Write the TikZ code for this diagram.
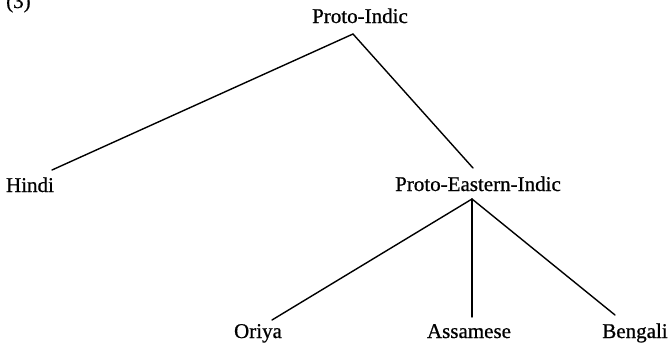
\documentclass[tikz,border=0pt]{standalone}
\usepackage{fontspec}
\setmainfont[FakeBold=0.7]{Liberation Serif}
\begin{document}
\begin{tikzpicture}[x=1bp,y=-1bp,
  lbl/.style={inner sep=0pt,anchor=base,font=\fontsize{21bp}{25bp}\selectfont},
  edge/.style={line width=1.4bp,line cap=round}]
\useasboundingbox (0,0) rectangle (669,344);
\node[lbl,anchor=base west] (num) at (6,8) {(3)};
\node[lbl] (pi) at (360,23) {Proto-Indic};
\node[lbl] (hi) at (30,192) {Hindi};
\node[lbl] (pei) at (478,191) {Proto-Eastern-Indic};
\node[lbl] (or) at (258,338) {Oriya};
\node[lbl] (as) at (469,338) {Assamese};
\node[lbl] (be) at (635,338) {Bengali};
\coordinate (piA) at (353,34);
\coordinate (hiE) at (52,170);
\coordinate (peiE) at (473,168);
\coordinate (peiA) at (472,199);
\coordinate (orE) at (272,320);
\coordinate (asE) at (472,317);
\coordinate (beE) at (615,315);
\draw[edge] (hiE) -- (piA) -- (peiE);
\draw[edge] (orE) -- (peiA) -- (beE);
\draw[edge] (peiA) -- (asE);
\end{tikzpicture}
\end{document}
